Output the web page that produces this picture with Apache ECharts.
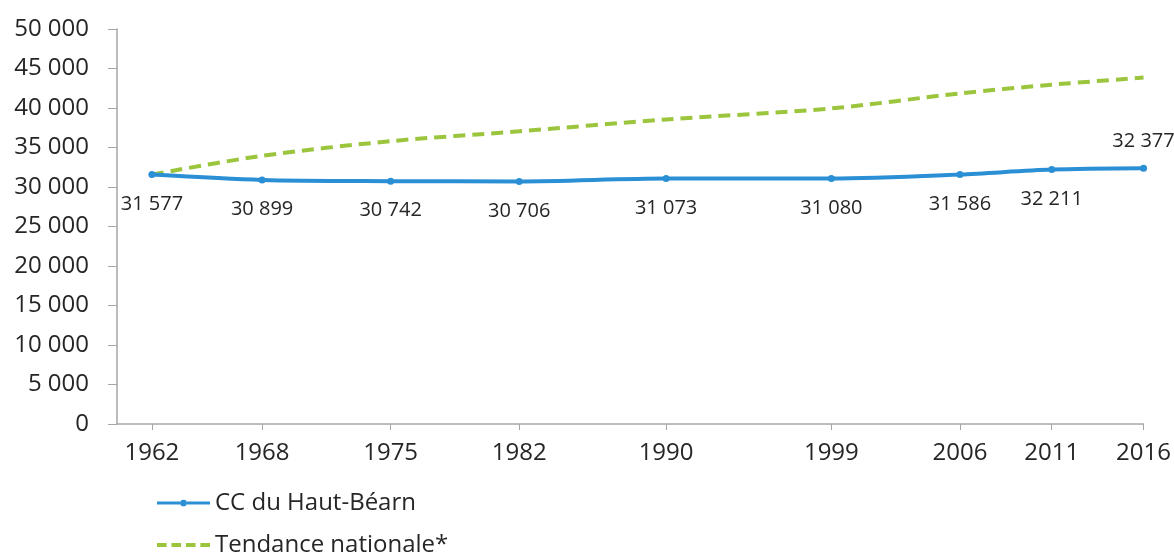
<!DOCTYPE html>
<html>
<head>
<meta charset="utf-8">
<script src="https://cdn.jsdelivr.net/npm/echarts@6/dist/echarts.min.js"></script>
<style>
  html, body { margin: 0; padding: 0; background: #fff; }
  #chart { width: 1174px; height: 553px; }
</style>
</head>
<body>
<div id="chart"></div>
<script>
"use strict"

// recensements
const years = [1962, 1968, 1975, 1982, 1990, 1999, 2006, 2011, 2016];
const hautBearn = [31577, 30899, 30742, 30706, 31073, 31080, 31586, 32211, 32377];
// tendance nationale
const tendance = [31577, 33950, 35800, 37050, 38550, 39950, 41850, 42950, 43850];
const yTicks = [0, 5000, 10000, 15000, 20000, 25000, 30000, 35000, 40000, 45000, 50000];

const fmt = (v) => String(v).replace(/\B(?=(\d{3})+(?!\d))/g, " ");

const font = "'Open Sans', sans-serif";
const textColor = "#262626";
const axisColor = "#a6a6a6";
const blue = "#2a8fd4";
const green = "#9bc53d";

// icones de legende : trait plein avec point, et tirets
const iconLine = "path://M0,2 H24 V5 H0 Z M31,2 H55 V5 H31 Z M24,3.5 A3.5,3.5 0 1,0 31,3.5 A3.5,3.5 0 1,0 24,3.5 Z";
const iconDash = "path://M0,0 H10 V4 H0 Z M15,0 H25 V4 H15 Z M30,0 H40 V4 H30 Z M45,0 H55 V4 H45 Z";

const pairs = (values) => years.map((y, i) => [y, values[i]]);

const bearnData = pairs(hautBearn).map((p, i) => {
    const item = { value: p };
    if (i === years.length - 1) {
        item.label = { position: "top", distance: 13 };
    }
    return item;
});

const legendBase = (top, name, icon, h) => ({
    left: 152,
    top: top,
    itemWidth: 53,
    itemHeight: h,
    textStyle: { color: textColor, fontFamily: font, fontSize: 24 },
    data: [{ name: name, icon: icon }]
});

const chart = echarts.init(document.getElementById("chart"));

chart.setOption({
    animation: false,
    grid: { left: 117, right: 27, top: 29, bottom: 129, containLabel: false },
    xAxis: {
        type: "value",
        min: 1960.1,
        max: 2016,
        splitLine: { show: false },
        axisLine: { lineStyle: { color: axisColor, width: 1.5 } },
        axisTick: { show: true, customValues: years, length: 6, lineStyle: { color: axisColor } },
        axisLabel: {
            customValues: years,
            formatter: (v) => String(v),
            margin: 17,
            color: textColor,
            fontFamily: font,
            fontSize: 24
        }
    },
    yAxis: {
        type: "value",
        min: 0,
        max: 50000,
        interval: 5000,
        splitLine: { show: false },
        axisLine: { show: true, lineStyle: { color: axisColor, width: 1.5 } },
        axisTick: { show: true, length: 9, lineStyle: { color: axisColor } },
        axisLabel: {
            formatter: (v) => yTicks.includes(v) ? fmt(v) : "",
            margin: 28,
            color: textColor,
            fontFamily: font,
            fontSize: 24
        }
    },
    legend: [
        legendBase(486, "CC du Haut-Béarn", iconLine, 7),
        legendBase(528, "Tendance nationale*", iconDash, 4)
    ],
    series: [
        {
            name: "Tendance nationale*",
            type: "line",
            data: pairs(tendance),
            smooth: 0.3,
            symbol: "none",
            lineStyle: { color: green, width: 4, type: [12, 7] },
            itemStyle: { color: green },
            z: 2
        },
        {
            name: "CC du Haut-Béarn",
            type: "line",
            data: bearnData,
            smooth: 0.3,
            symbol: "circle",
            symbolSize: 7,
            lineStyle: { color: blue, width: 4 },
            itemStyle: { color: blue },
            label: {
                show: true,
                position: "bottom",
                distance: 16,
                color: textColor,
                fontFamily: font,
                fontSize: 20,
                formatter: (p) => fmt(p.value[1])
            },
            z: 3
        }
    ]
});
</script>
</body>
</html>
